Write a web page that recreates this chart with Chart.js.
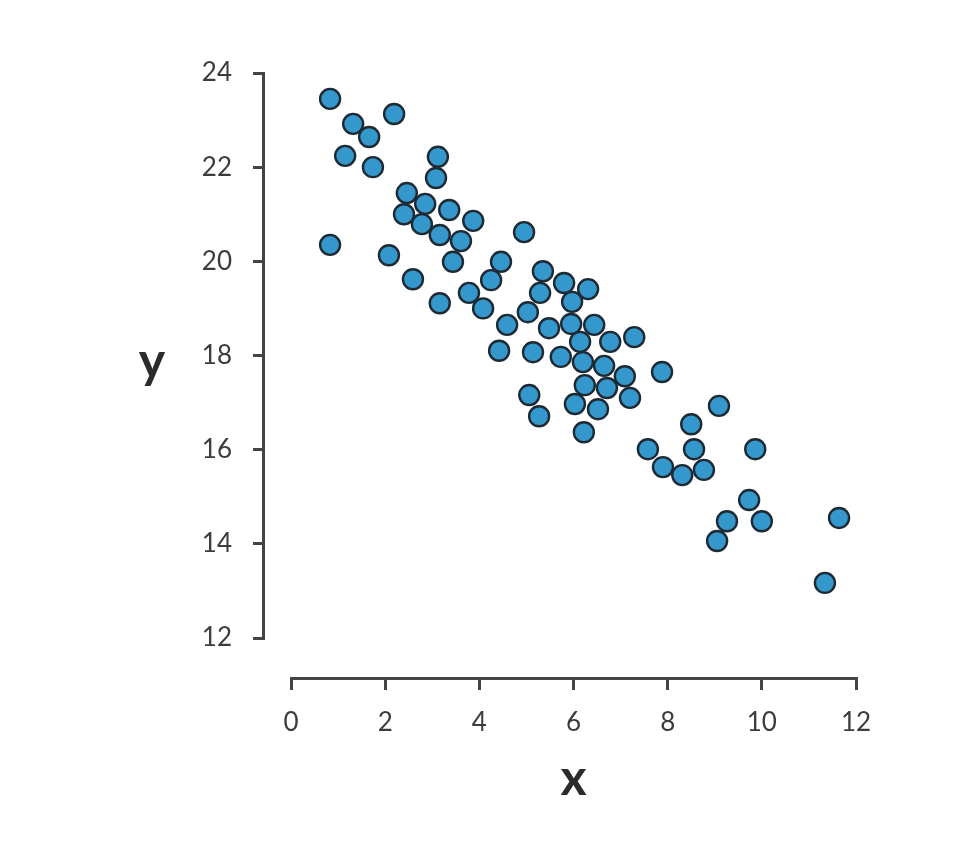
<!DOCTYPE html>
<html>
<head>
<meta charset="utf-8">
<script src="https://cdn.jsdelivr.net/npm/chart.js@4/dist/chart.umd.min.js"></script>
<style>
  html, body { margin: 0; padding: 0; background: #fff; }
  #wrap { width: 970px; height: 853px; }
</style>
</head>
<body>
<div id="wrap"><canvas id="chartScatter" width="970" height="853"></canvas></div>
<script>
// values
const xValues = [0.83, 1.32, 1.66, 2.19, 1.15, 1.74, 3.12, 3.08, 2.46, 2.40, 2.85, 2.78, 3.36, 3.16, 3.87, 3.61, 3.44,
    0.83, 2.08, 2.59, 3.16, 3.78, 4.08, 4.25, 4.46, 4.95, 5.35, 5.29, 5.03, 4.59, 4.42, 5.48, 5.14, 5.06, 5.27,
    5.80, 5.97, 6.31, 5.95, 6.44, 6.14, 6.78, 7.29, 5.73, 6.20, 6.65, 7.09, 6.24, 6.71, 6.03, 6.52, 7.20, 6.22,
    7.88, 7.58, 7.90, 8.31, 8.50, 8.56, 8.77, 9.09, 9.86, 9.73, 9.26, 9.05, 10.00, 11.64, 11.34];
const yValues = [23.45, 22.92, 22.64, 23.13, 22.24, 22.00, 22.22, 21.77, 21.45, 21.00, 21.22, 20.79, 21.09, 20.56, 20.86, 20.43, 19.99,
    20.35, 20.13, 19.62, 19.11, 19.33, 19.00, 19.60, 19.99, 20.62, 19.79, 19.33, 18.92, 18.65, 18.10, 18.58, 18.07, 17.16, 16.71,
    19.54, 19.14, 19.41, 18.67, 18.65, 18.29, 18.29, 18.39, 17.97, 17.86, 17.78, 17.56, 17.37, 17.31, 16.97, 16.86, 17.10, 16.37,
    17.65, 16.01, 15.63, 15.46, 16.54, 16.01, 15.57, 16.93, 16.01, 14.93, 14.48, 14.06, 14.48, 14.55, 13.17];
const xTicks = [0, 2, 4, 6, 8, 10, 12];
const yTicks = [12, 14, 16, 18, 20, 22, 24];
const xTitle = 'x';
const yTitle = 'y';

const axisColor = '#444';
const labelColor = '#3c3c3c';

// empty box between the y axis and the plot so the axis sits apart
const yAxisGap = {
    id: 'yAxisGap',
    beforeInit(chart) {
        Chart.layouts.addBox(chart, {
            position: 'left',
            weight: -100,
            options: {},
            width: 0,
            height: 0,
            isHorizontal: function () { return false; },
            update: function (maxWidth, maxHeight) { this.width = 28; this.height = maxHeight; },
            draw: function () {}
        });
    }
};

// axis titles, y stays upright like in the original
const axisTitles = {
    id: 'axisTitles',
    afterDraw(chart) {
        const ctx = chart.ctx;
        const area = chart.chartArea;
        ctx.save();
        ctx.fillStyle = '#2b2b2b';
        ctx.font = 'bold 50px Lato';
        ctx.textAlign = 'center';
        ctx.textBaseline = 'middle';
        ctx.fillText(xTitle, (area.left + area.right) / 2, area.bottom + 141);
        ctx.fillText(yTitle, area.left - 139, (area.top + area.bottom) / 2 + 6);
        ctx.restore();
    }
};

const ctxScatter = document.getElementById('chartScatter');
const points = xValues.map(function (x, i) { return { x: x, y: yValues[i] }; });

new Chart(ctxScatter, {
    type: 'scatter',
    data: {
        datasets: [{
            data: points,
            backgroundColor: '#3598cc',
            borderColor: '#1e2a33',
            borderWidth: 2.4,
            pointRadius: 10,
            pointHoverRadius: 10
        }]
    },
    options: {
        responsive: false,
        animation: false,
        layout: { padding: { left: 183, right: 114, top: 73, bottom: 215 } },
        plugins: { legend: { display: false }, tooltip: { enabled: false } },
        scales: {
            x: {
                type: 'linear',
                min: 0,
                max: 12,
                position: { y: 11.15 },
                afterBuildTicks: function (scale) { scale.ticks = xTicks.map(function (v) { return { value: v }; }); },
                grid: { drawOnChartArea: false, drawTicks: true, tickLength: 10, color: axisColor, lineWidth: 3 },
                border: { display: true, color: axisColor, width: 3 },
                ticks: { padding: 19, color: labelColor, font: { family: 'Lato', size: 26 } }
            },
            y: {
                type: 'linear',
                min: 12,
                max: 24,
                position: 'left',
                afterBuildTicks: function (scale) { scale.ticks = yTicks.map(function (v) { return { value: v }; }); },
                afterFit: function (scale) { scale.width = 80; },
                grid: { drawOnChartArea: false, drawTicks: true, tickLength: 10, color: axisColor, lineWidth: 3 },
                border: { display: true, color: axisColor, width: 3 },
                ticks: { padding: 21, color: labelColor, font: { family: 'Lato', size: 26 } }
            }
        }
    },
    plugins: [yAxisGap, axisTitles]
});
</script>
</body>
</html>
